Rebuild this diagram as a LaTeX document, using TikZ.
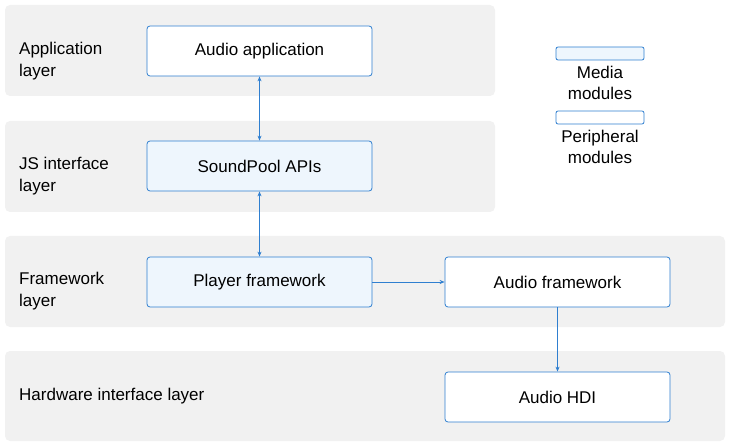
\documentclass[tikz,border=0pt]{standalone}
\usepackage{fontspec}
\setmainfont{Liberation Sans}
\usetikzlibrary{arrows.meta}
\definecolor{band}{HTML}{F1F1F1}
\definecolor{edge}{HTML}{2F7FD0}
\definecolor{media}{HTML}{EEF6FD}
\begin{document}
\begin{tikzpicture}[x=1pt,y=-1pt,
 band/.style={fill=band,draw=none,rounded corners=5pt},
 box/.style={draw=edge,line width=0.8pt,rounded corners=3pt,fill=white,font=\fontsize{17}{21}\selectfont},
 lab/.style={anchor=west,align=left,inner sep=0pt,font=\fontsize{17}{22}\selectfont},
 leg/.style={font=\fontsize{17}{21}\selectfont,align=center,anchor=north,inner sep=0pt},
 arr/.style={draw=edge,line width=0.7pt,-{Stealth[length=5pt,width=4pt]}},
 darr/.style={draw=edge,line width=0.7pt,{Stealth[length=5pt,width=4pt]}-{Stealth[length=5pt,width=4pt]}}]
\useasboundingbox (0,0) rectangle (730,446);
\fill[band] (5,5) rectangle (495,96);
\fill[band] (5,121) rectangle (495,212);
\fill[band] (5,236) rectangle (725,327);
\fill[band] (5,351) rectangle (725,441);
\node[lab] (l1) at (19,61) {Application\\layer};
\node[lab] (l2) at (19,176) {JS interface\\layer};
\node[lab] (l3) at (19,291) {Framework\\layer};
\node[lab] (l4) at (19,396) {Hardware interface layer};
\node[box,minimum width=225pt,minimum height=50pt] (app) at (259.5,51) {Audio application};
\node[box,fill=media,minimum width=225pt,minimum height=50pt] (sp) at (259.5,166) {SoundPool APIs};
\node[box,fill=media,minimum width=225pt,minimum height=50pt] (pf) at (259.5,282) {Player framework};
\node[box,minimum width=225pt,minimum height=50pt] (af) at (557.5,282) {Audio framework};
\node[box,minimum width=225pt,minimum height=50pt] (hdi) at (557.5,397) {Audio HDI};
\draw[darr] (app) -- (sp);
\draw[darr] (sp) -- (pf);
\draw[arr] (pf) -- (af);
\draw[arr] (af) -- (hdi);
\node[box,fill=media,minimum width=88pt,minimum height=13pt,inner sep=0pt,rounded corners=2pt] (lm) at (600,53.5) {};
\node[leg] (lmt) at (600,66) {Media\\modules};
\node[box,minimum width=88pt,minimum height=13pt,inner sep=0pt,rounded corners=2pt] (lp) at (600,117.5) {};
\node[leg] (lpt) at (600,130) {Peripheral\\modules};
\end{tikzpicture}
\end{document}
